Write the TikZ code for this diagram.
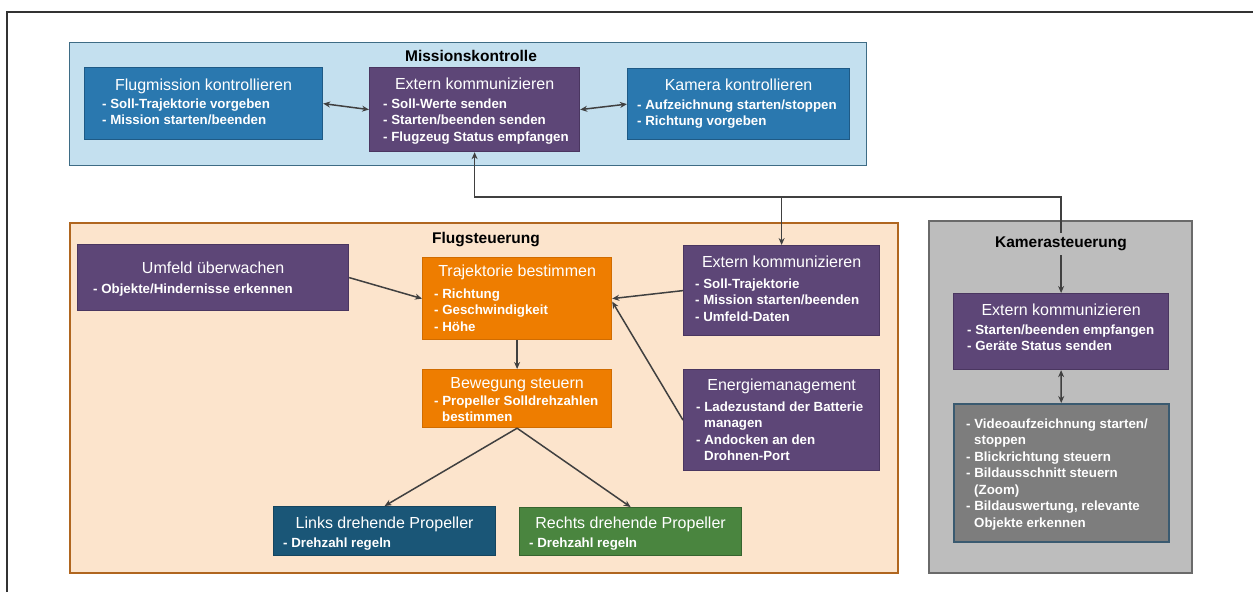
\documentclass[tikz,border=0pt]{standalone}
\usepackage{fontspec}
\setmainfont{Liberation Sans}
\usetikzlibrary{positioning}
\usetikzlibrary{arrows.meta}

\definecolor{missionbg}{HTML}{C4E0EF}
\definecolor{missionrand}{HTML}{3E6C85}
\definecolor{blaubox}{HTML}{2A78AF}
\definecolor{blaurand}{HTML}{1E5A86}
\definecolor{lila}{HTML}{5D4677}
\definecolor{lilarand}{HTML}{4A3660}
\definecolor{orange}{HTML}{EE7D00}
\definecolor{orangerand}{HTML}{D06C00}
\definecolor{flugbg}{HTML}{FCE4CC}
\definecolor{flugrand}{HTML}{B0661F}
\definecolor{linksblau}{HTML}{1A5677}
\definecolor{rechtsgruen}{HTML}{4A853F}
\definecolor{kambg}{HTML}{BDBDBD}
\definecolor{kamrand}{HTML}{6A6A6A}
\definecolor{kamgrau}{HTML}{7D7D7D}
\definecolor{kamgraurand}{HTML}{3A5A70}
\definecolor{pfeil}{HTML}{404040}

\tikzset{
  box/.style={draw, anchor=north west, inner sep=0pt, line width=1.2pt},
  bluebox/.style={box, fill=blaubox, draw=blaurand},
  lilabox/.style={box, fill=lila, draw=lilarand},
  orangebox/.style={box, fill=orange, draw=orangerand},
  ttl/.style={anchor=base, text=white, inner sep=0pt, font=\fontsize{16}{19}\selectfont},
  lst/.style={anchor=north west, align=left, text=white, inner sep=0pt,
    font=\bfseries\fontsize{13.3}{16.5}\selectfont},
  grp/.style={anchor=base, inner sep=0pt, font=\bfseries\fontsize{15.5}{18}\selectfont},
  arr/.style={-{Stealth[length=7pt,width=6pt]}, line width=1.5pt, draw=pfeil},
  darr/.style={arr, {Stealth[length=7pt,width=6pt]}-{Stealth[length=7pt,width=6pt]}}
}

\begin{document}
\begin{tikzpicture}[x=1pt, y=-1pt]
\useasboundingbox (0,0) rectangle (1253,592);
\draw[line width=1.5pt, draw=black!80] (7,592) |- (1253,12);

% Missionskontrolle
\node[box, fill=missionbg, draw=missionrand, minimum width=797, minimum height=123] (mission) at (69,42) {};
\node[grp] (mission-t) at (471,61.5) {Missionskontrolle};

\node[bluebox, minimum width=238, minimum height=72] (flugmission) at (84,67) {};
\node[ttl] (flugmission-t) at ([yshift=-23pt]flugmission.north) {Flugmission kontrollieren};
\node[lst] (flugmission-l) at ([shift={(18,31.3)}]flugmission.north west)
  {- Soll-Trajektorie vorgeben\\- Mission starten/beenden};

\node[lilabox, minimum width=210, minimum height=84] (missext) at (369,67) {};
\node[ttl] (missext-t) at ([yshift=-22pt]missext.north) {Extern kommunizieren};
\node[lst] (missext-l) at ([shift={(14,31.3)}]missext.north west)
  {- Soll-Werte senden\\- Starten/beenden senden\\- Flugzeug Status empfangen};

\node[bluebox, minimum width=222, minimum height=71] (kamkontr) at (627,68) {};
\node[ttl] (kamkontr-t) at ([yshift=-22pt]kamkontr.north) {Kamera kontrollieren};
\node[lst] (kamkontr-l) at ([shift={(10,31.3)}]kamkontr.north west)
  {- Aufzeichnung starten/stoppen\\- Richtung vorgeben};

% Flugsteuerung
\node[box, fill=flugbg, draw=flugrand, line width=1.8pt, minimum width=828, minimum height=350] (flug) at (69,222) {};
\node[grp] (flug-t) at (486,243.5) {Flugsteuerung};

\node[lilabox, minimum width=271, minimum height=66] (umfeld) at (77,244) {};
\node[ttl] (umfeld-t) at ([yshift=-29pt]umfeld.north) {Umfeld überwachen};
\node[lst] (umfeld-l) at ([shift={(16,39.3)}]umfeld.north west)
  {- Objekte/Hindernisse erkennen};

\node[orangebox, minimum width=189, minimum height=82] (trajektorie) at (422,257) {};
\node[ttl] (trajektorie-t) at ([yshift=-19pt]trajektorie.north) {Trajektorie bestimmen};
\node[lst] (trajektorie-l) at ([shift={(12,31.3)}]trajektorie.north west)
  {- Richtung\\- Geschwindigkeit\\- Höhe};

\node[orangebox, minimum width=189, minimum height=58] (bewegung) at (422,369) {};
\node[ttl] (bewegung-t) at ([yshift=-19pt]bewegung.north) {Bewegung steuern};
\node[lst] (bewegung-l) at ([shift={(12,26.3)}]bewegung.north west)
  {- Propeller Solldrehzahlen\\\hspace*{8pt}bestimmen};

\node[lilabox, minimum width=196, minimum height=90] (flugext) at (683,245) {};
\node[ttl] (flugext-t) at ([yshift=-22pt]flugext.north) {Extern kommunizieren};
\node[lst] (flugext-l) at ([shift={(12,33.3)}]flugext.north west)
  {- Soll-Trajektorie\\- Mission starten/beenden\\- Umfeld-Daten};

\node[lilabox, minimum width=196, minimum height=101] (energie) at (683,369) {};
\node[ttl] (energie-t) at ([yshift=-21pt]energie.north) {Energiemanagement};
\node[lst] (energie-l) at ([shift={(13,32.3)}]energie.north west)
  {- Ladezustand der Batterie\\\hspace*{8pt}managen\\- Andocken an den\\\hspace*{8pt}Drohnen-Port};

\node[box, fill=linksblau, draw=linksblau!80!black, minimum width=222, minimum height=49] (links) at (273,506) {};
\node[ttl] (links-t) at ([yshift=-22pt]links.north) {Links drehende Propeller};
\node[lst] (links-l) at ([shift={(10,31.3)}]links.north west) {- Drehzahl regeln};

\node[box, fill=rechtsgruen, draw=rechtsgruen!75!black, minimum width=222, minimum height=48] (rechts) at (519,507) {};
\node[ttl] (rechts-t) at ([yshift=-21pt]rechts.north) {Rechts drehende Propeller};
\node[lst] (rechts-l) at ([shift={(10,30.3)}]rechts.north west) {- Drehzahl regeln};

% Kamerasteuerung
\node[box, fill=kambg, draw=kamrand, line width=1.8pt, minimum width=263, minimum height=352] (kamera) at (928,220) {};

\node[lilabox, minimum width=215, minimum height=76] (kamext) at (953,293) {};
\node[ttl] (kamext-t) at ([yshift=-22pt]kamext.north) {Extern kommunizieren};
\node[lst] (kamext-l) at ([shift={(14,31.3)}]kamext.north west)
  {- Starten/beenden empfangen\\- Geräte Status senden};

\node[box, fill=kamgrau, draw=kamgraurand, line width=1.5pt, minimum width=215, minimum height=138] (kamfunk) at (953,403) {};
\node[lst] (kamfunk-l) at ([shift={(13,15.3)}]kamfunk.north west)
  {- Videoaufzeichnung starten/\\\hspace*{8pt}stoppen\\- Blickrichtung steuern\\- Bildausschnitt steuern\\\hspace*{8pt}(Zoom)\\- Bildauswertung, relevante\\\hspace*{8pt}Objekte erkennen};

% Verbindungen
\draw[darr] (flugmission.east) -- (missext.west);
\draw[darr] (missext.east) -- (kamkontr.west);
\coordinate (bus) at (flugext.north |- 0,197);
\draw[arr] (bus) -| (missext.south);
\draw[arr] (bus) -- (flugext.north);
\draw[arr] (bus) -| (kamext.north);
\draw[arr] (umfeld.east) -- (trajektorie.west);
\draw[arr] (flugext.west) -- (trajektorie.east);
\draw[arr] (energie.west) -- ([yshift=-3pt]trajektorie.east);
\draw[arr] (trajektorie.south) -- (bewegung.north);
\draw[arr] (bewegung.south) -- (links.north);
\draw[arr] (bewegung.south) -- (rechts.north);
\draw[darr] (kamext.south) -- (kamfunk.north);

\node[grp, fill=kambg, inner sep=4pt] (kamera-t) at (1061,247.5) {Kamerasteuerung};
\end{tikzpicture}
\end{document}
